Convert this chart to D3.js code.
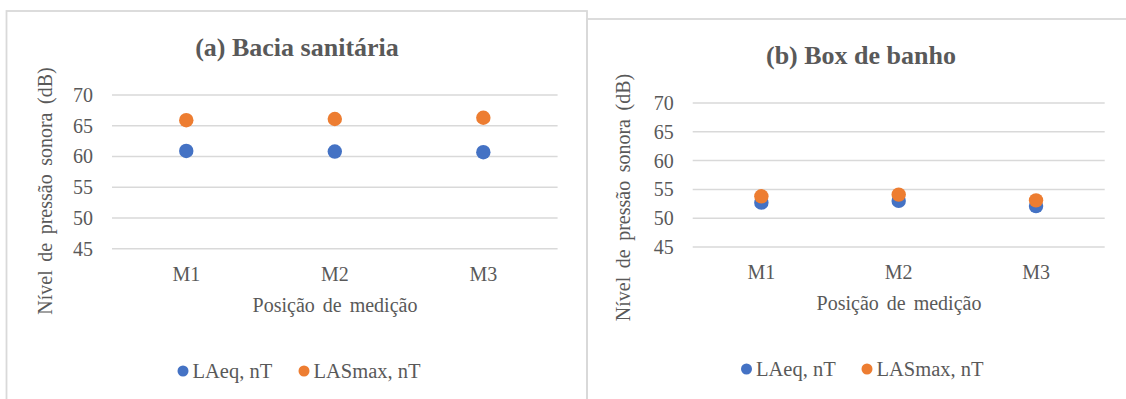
<!DOCTYPE html>
<html>
<head>
<meta charset="utf-8">
<script src="https://cdn.jsdelivr.net/npm/d3@7"></script>
<style>
  html, body { margin: 0; padding: 0; background: #fff; }
  svg { display: block; }
</style>
</head>
<body>
<svg id="chart" width="1126" height="399"></svg>
<script>
// Sound pressure level by measurement position
const categories = ["M1", "M2", "M3"];
const yTicks = [45, 50, 55, 60, 65, 70];
const seriesNames = ["LAeq, nT", "LASmax, nT"];
const seriesColors = ["#4472C4", "#ED7D31"];

const baciaLAeq = [60.9, 60.8, 60.7];
const baciaLASmax = [65.9, 66.1, 66.3];
const boxLAeq = [52.7, 53.0, 52.1];
const boxLASmax = [53.8, 54.1, 53.1];

const FONT = "'Liberation Serif', 'Times New Roman', Tinos, 'DejaVu Serif', serif";
const INK = "#595959";

const panels = [
  {
    title: "(a) Bacia sanitária",
    series: [baciaLAeq, baciaLASmax],
    frame: { x: 6.5, y: 11, w: 580.5, h: 400 },
    plot: { x0: 112, x1: 557.6, yTop: 95, yBot: 248.7 },
    titleX: 297, titleY: 56,
    yTitleX: 44.5, yTitleY: 191,
    catY: 281, xTitleX: 335, xTitleY: 311.5,
    legendY: 371, legendX: [183, 304]
  },
  {
    title: "(b) Box de banho",
    series: [boxLAeq, boxLASmax],
    frame: { x: 587, y: 19, w: 545, h: 400 },
    plot: { x0: 692.7, x1: 1104.7, yTop: 103, yBot: 247 },
    titleX: 861, titleY: 64,
    yTitleX: 623, yTitleY: 197.5,
    catY: 279, xTitleX: 899, xTitleY: 310,
    legendY: 369, legendX: [746.5, 867]
  }
];

const svg = d3.select("#chart");

function styleText(sel, size) {
  return sel.style("font-family", FONT)
    .style("font-size", size + "px")
    .style("fill", INK);
}

panels.forEach(p => {
  const g = svg.append("g");

  // chart area frame
  g.append("rect")
    .attr("x", p.frame.x).attr("y", p.frame.y)
    .attr("width", p.frame.w).attr("height", p.frame.h)
    .attr("fill", "none")
    .attr("stroke", "#d9d9d9")
    .attr("stroke-width", 1.8);

  const x = d3.scaleBand().domain(categories).range([p.plot.x0, p.plot.x1]);
  const y = d3.scaleLinear().domain([45, 70]).range([p.plot.yBot, p.plot.yTop]);

  // horizontal gridlines
  g.append("g").selectAll("line").data(yTicks).join("line")
    .attr("x1", p.plot.x0).attr("x2", p.plot.x1)
    .attr("y1", d => y(d)).attr("y2", d => y(d))
    .attr("stroke", "#d9d9d9").attr("stroke-width", 1.5);

  // y axis labels
  const yAxis = g.append("g")
    .attr("transform", `translate(${p.plot.x0},0)`)
    .call(d3.axisLeft(y).tickValues(yTicks).tickSize(0).tickPadding(19));
  yAxis.attr("font-family", null).attr("font-size", null);
  yAxis.select(".domain").remove();
  styleText(yAxis.selectAll("text"), 20);

  // category labels
  const xAxis = g.append("g")
    .attr("transform", `translate(0,${p.catY})`)
    .call(d3.axisBottom(x).tickSize(0).tickPadding(0));
  xAxis.attr("font-family", null).attr("font-size", null);
  xAxis.select(".domain").remove();
  styleText(xAxis.selectAll("text").attr("dy", 0).attr("y", 0), 20);

  // title
  styleText(g.append("text")
    .attr("x", p.titleX).attr("y", p.titleY)
    .attr("text-anchor", "middle")
    .style("font-weight", "bold")
    .text(p.title), 26);

  // axis titles
  styleText(g.append("text")
    .attr("transform", `translate(${p.yTitleX},${p.yTitleY}) rotate(-90)`)
    .attr("text-anchor", "middle").attr("dy", "0.35em")
    .style("word-spacing", "3.5px")
    .text("Nível de pressão sonora (dB)"), 20);

  styleText(g.append("text")
    .attr("x", p.xTitleX).attr("y", p.xTitleY)
    .attr("text-anchor", "middle")
    .style("word-spacing", "3px")
    .text("Posição de medição"), 20);

  // markers
  p.series.forEach((vals, si) => {
    g.append("g").selectAll("circle").data(vals).join("circle")
      .attr("cx", (d, i) => x(categories[i]) + x.bandwidth() / 2)
      .attr("cy", d => y(d))
      .attr("r", 7.2)
      .attr("fill", seriesColors[si]);
  });

  // legend
  seriesNames.forEach((name, si) => {
    const lx = p.legendX[si];
    g.append("circle")
      .attr("cx", lx).attr("cy", p.legendY).attr("r", 5.5)
      .attr("fill", seriesColors[si]);
    styleText(g.append("text")
      .attr("x", lx + 9.5).attr("y", p.legendY).attr("dy", "0.36em")
      .text(name), 20.5);
  });
});
</script>
</body>
</html>
